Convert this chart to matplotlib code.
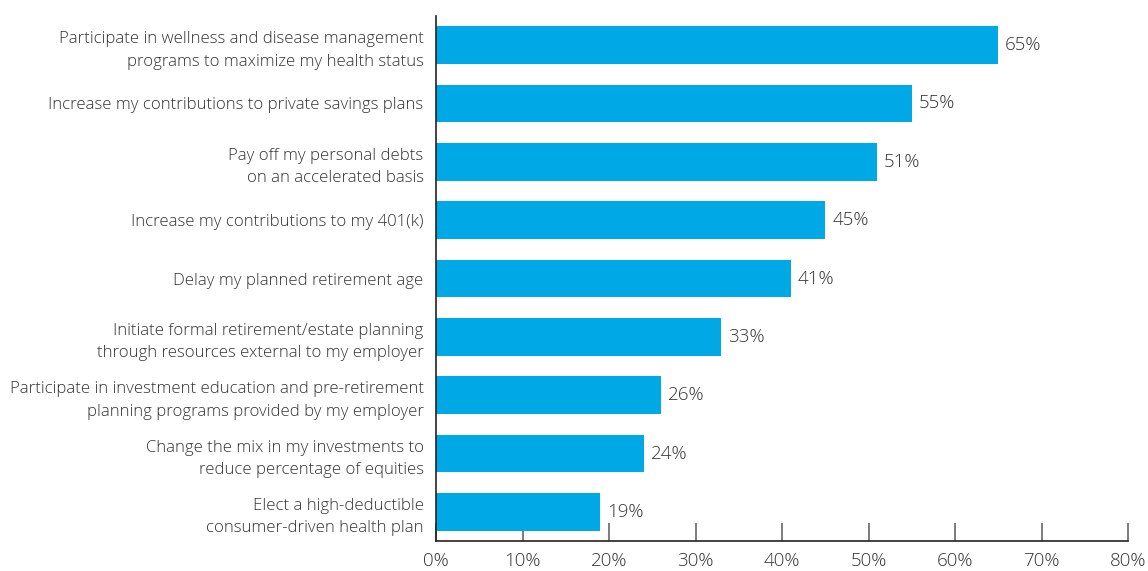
import matplotlib.pyplot as plt
import numpy as np

# Actions taken in preparation for retirement (share of respondents)
acoes = ["Participate in wellness and disease management\nprograms to maximize my health status",
         "Increase my contributions to private savings plans",
         "Pay off my personal debts\non an accelerated basis",
         "Increase my contributions to my 401(k)",
         "Delay my planned retirement age",
         "Initiate formal retirement/estate planning\nthrough resources external to my employer",
         "Participate in investment education and pre-retirement\nplanning programs provided by my employer",
         "Change the mix in my investments to\nreduce percentage of equities",
         "Elect a high-deductible\nconsumer-driven health plan"]
percentuais = [65, 55, 51, 45, 41, 33, 26, 24, 19]
marcas_x = [0, 10, 20, 30, 40, 50, 60, 70, 80]
rotulos_x = ["0%", "10%", "20%", "30%", "40%", "50%", "60%", "70%", "80%"]

AZUL = "#00a9e6"
CINZA = "#333333"

plt.rcParams["font.family"] = ["Open Sans", "DejaVu Sans"]
plt.rcParams["font.weight"] = "light"

fig = plt.figure(figsize=(11.48, 5.71), dpi=100)
ax = fig.add_axes([0.3798, 0.0525, 0.6028, 0.9195])
ax.set_axisbelow(True)

y = np.arange(len(acoes))
ax.barh(y, percentuais, height=0.65, color=AZUL, zorder=3)
for yi, v in zip(y, percentuais):
    ax.text(v + 0.8, yi, f"{v}%", va="center", ha="left",
            fontsize=13.5, color=CINZA)

ax.set_ylim(len(acoes) - 0.5, -0.5)
ax.set_xlim(0, 80)
ax.set_yticks(y)
ax.set_yticklabels(acoes, fontsize=12.1, color=CINZA, linespacing=1.55)
ax.set_xticks(marcas_x)
ax.set_xticklabels(rotulos_x, fontsize=13.5, color=CINZA)

ax.tick_params(axis="y", length=0, pad=9)
ax.tick_params(axis="x", direction="in", length=13, width=1.2,
               color="#666666", pad=8)
ax.spines["top"].set_visible(False)
ax.spines["right"].set_visible(False)
for lado in ["left", "bottom"]:
    ax.spines[lado].set_color("#222222")
    ax.spines[lado].set_linewidth(1.2)
    ax.spines[lado].set_zorder(4)

fig.savefig("out.png", dpi=100)
plt.close()
